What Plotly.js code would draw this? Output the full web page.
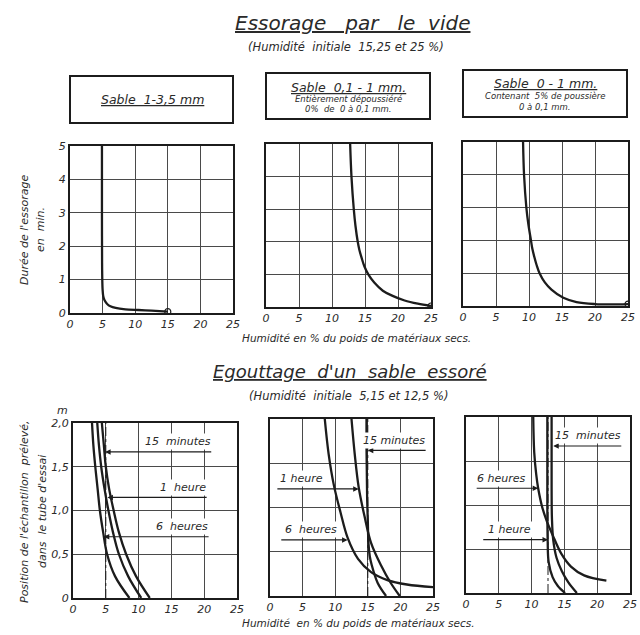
<!DOCTYPE html>
<html><head><meta charset="utf-8">
<script src="https://cdn.plot.ly/plotly-3.0.1.min.js"></script>
<style>body{margin:0;background:#fff}#chart{width:640px;height:635px}</style>
</head><body><div id="chart"></div>
<script>
// ---------- DATA ----------
// Top row: "Essorage par le vide" – duration (min) vs humidity (%)
const s1Hum = [4.9,4.9,4.92,4.95,5.0,5.1,5.3,5.7,6.2,7.0,8.5,10.5,12.5,15.0];
const s1Dur = [5.0,3.0,1.5,1.0,0.7,0.5,0.38,0.27,0.2,0.15,0.11,0.09,0.07,0.04];
const s2Hum = [12.75,12.95,13.3,13.55,13.9,14.15,14.5,14.9,15.5,16.4,17.7,19.1,21.0,23.0,25.0];
const s2Dur = [5.0,4.0,3.0,2.5,2.0,1.75,1.5,1.25,1.0,0.75,0.5,0.35,0.2,0.1,0.03];
const s3Hum = [9.1,9.25,9.6,9.9,10.3,10.5,10.8,11.15,11.6,12.4,13.4,15.2,17.2,20.0,22.5,25.0];
const s3Dur = [5.0,4.0,3.0,2.5,2.0,1.75,1.5,1.25,1.0,0.72,0.5,0.25,0.12,0.06,0.05,0.06];
const endHum = [15.0, 25.0, 25.0];
const endDur = [0.04, 0.03, 0.06];

// Bottom row: "Egouttage d'un sable essoré" – position (m) vs humidity (%)
const initHum = [5.0, 15.0, 12.5];            // initial humidity (dash-dot lines)
const posRange = [0.0, 2.0];
// panel 4 (initial 5 %)
const p4aHum = [4.4,4.7,5.0,5.5,6.2,7.0,8.1,9.6,11.7];   // 15 minutes
const p4aPos = [2.0,1.75,1.5,1.25,1.0,0.75,0.5,0.25,0.0];
const p4bHum = [3.7,3.95,4.3,4.8,5.4,6.1,7.0,8.4,10.4];  // 1 heure
const p4bPos = [2.0,1.75,1.5,1.25,1.0,0.75,0.5,0.25,0.0];
const p4cHum = [2.9,3.1,3.4,3.75,4.1,4.6,5.2,6.4,8.6];   // 6 heures
const p4cPos = [2.0,1.75,1.5,1.25,1.0,0.75,0.5,0.25,0.0];
// panel 5 (initial 15 %)
const p5aHum = [14.8,14.8,14.85,14.9,15.0,15.1,15.3,15.6,16.5,17.8];  // 15 minutes
const p5aPos = [2.0,1.7,1.4,1.1,0.85,0.6,0.45,0.35,0.15,0.0];
const p5bHum = [12.5,13.0,13.6,14.5,15.5,17.0,18.5,19.9];             // 1 heure
const p5bPos = [2.0,1.6,1.23,0.9,0.6,0.35,0.15,0.0];
const p5cHum = [8.4,9.0,9.8,10.8,11.9,13.5,15.5,18.0,21.0,25.0];      // 6 heures
const p5cPos = [2.0,1.6,1.25,0.95,0.66,0.42,0.27,0.18,0.13,0.1];
// panel 6 (initial 12,5 %)
const p6aHum = [13.05,13.05,13.1,13.3,13.8,14.6,15.6,16.9];           // 15 minutes
const p6aPos = [2.0,1.2,0.85,0.6,0.4,0.25,0.12,0.0];
const p6bHum = [12.4,12.4,12.45,12.6,13.2,14.0,15.1];                 // 1 heure
const p6bPos = [2.0,1.0,0.6,0.35,0.18,0.08,0.0];
const p6cHum = [10.25,10.4,10.7,11.0,11.6,12.3,13.2,14.5,16.0,18.0,21.4]; // 6 heures
const p6cPos = [2.0,1.6,1.35,1.19,0.98,0.82,0.66,0.45,0.3,0.2,0.14];

const xTicks = [0,5,10,15,20,25];
const yTopTicks = [0,1,2,3,4,5];
const yBotTicks = [0,0.5,1.0,1.5,2.0];
const yBotText = ['0','0,5','1,0','1,5','2,0'];

// ---------- LAYOUT HELPERS ----------
const W = 640, H = 635;
const px = v => v / W;
const py = v => 1 - v / H;
const INK = '#1c1c1c';
const FONT = 'DejaVu Sans, Liberation Sans, sans-serif';
const ital = (size, color) => ({family: FONT, size: size, color: color || '#2a2a2a', style: 'italic'});

const panels = [
  {x:[70,233],  y:[146,313]},
  {x:[266,431], y:[144,307]},
  {x:[463,628], y:[142,306]},
  {x:[73,237],  y:[423,598]},
  {x:[270,433], y:[419,596]},
  {x:[466,630], y:[417,593]}
];

const layout = {
  width: W, height: H,
  margin: {l:0, r:0, t:0, b:0},
  paper_bgcolor: '#fff', plot_bgcolor: '#fff',
  showlegend: false,
  annotations: [], shapes: []
};

panels.forEach((p, i) => {
  const n = i + 1;
  const xk = n === 1 ? 'xaxis' : 'xaxis' + n;
  const yk = n === 1 ? 'yaxis' : 'yaxis' + n;
  const top = i < 3;
  layout[xk] = {
    domain: [px(p.x[0]), px(p.x[1])], anchor: 'y' + (n === 1 ? '' : n),
    range: [0, 25], tickvals: xTicks, showgrid: true, gridcolor: '#4a4a4a', gridwidth: 1,
    zeroline: false, showline: true, mirror: true, linecolor: INK, linewidth: 2,
    ticks: '', tickfont: ital(11), fixedrange: true
  };
  layout[yk] = {
    domain: [py(p.y[1]), py(p.y[0])], anchor: 'x' + (n === 1 ? '' : n),
    range: top ? [0, 5] : posRange,
    tickvals: top ? yTopTicks : yBotTicks,
    ticktext: top ? yTopTicks.map(String) : yBotText,
    showticklabels: (i === 0 || i === 3),
    showgrid: true, gridcolor: '#4a4a4a', gridwidth: 1,
    zeroline: false, showline: true, mirror: true, linecolor: INK, linewidth: 2,
    ticks: '', tickfont: ital(11), fixedrange: true
  };
});

// ---------- TRACES ----------
const line = (x, y, n, extra) => Object.assign({
  x: x, y: y, xaxis: 'x' + (n === 1 ? '' : n), yaxis: 'y' + (n === 1 ? '' : n),
  type: 'scatter', mode: 'lines', line: {color: INK, width: 2.3, shape: 'spline', smoothing: 1.0},
  hoverinfo: 'skip'
}, extra || {});

const traces = [
  line(s1Hum, s1Dur, 1, {line: {color: INK, width: 2.3, shape: 'spline', smoothing: 0.7}}),
  line(s2Hum, s2Dur, 2),
  line(s3Hum, s3Dur, 3),
  line(p4aHum, p4aPos, 4), line(p4bHum, p4bPos, 4), line(p4cHum, p4cPos, 4),
  line(p5aHum, p5aPos, 5), line(p5bHum, p5bPos, 5), line(p5cHum, p5cPos, 5),
  line(p6aHum, p6aPos, 6), line(p6bHum, p6bPos, 6), line(p6cHum, p6cPos, 6)
];
endHum.forEach((h, i) => {
  traces.push(line([h], [endDur[i]], i + 1, {mode: 'markers',
    marker: {symbol: 'circle-open', size: 6, color: INK, line: {width: 1.2, color: INK}}}));
});
initHum.forEach((h, i) => {
  traces.push(line([h, h], posRange, i + 4, {line: {color: INK, width: 1, dash: 'dashdot'}}));
});

// ---------- TEXT ----------
const A = layout.annotations;
const paperText = (x, y, text, size, extra) => A.push(Object.assign({
  xref: 'paper', yref: 'paper', x: px(x), y: py(y), text: text, showarrow: false,
  xanchor: 'center', yanchor: 'middle', font: ital(size)
}, extra || {}));

paperText(352, 23, '<u>Essorage   par   le  vide</u>', 20);
paperText(346, 47, '(Humidité  initiale  15,25 et 25 %)', 11.5);
paperText(350, 371, '<u>Egouttage  d\'un  sable  essoré</u>', 18);
paperText(348, 396, '(Humidité  initiale  5,15 et 12,5 %)', 11.5);
paperText(356, 338, 'Humidité en % du poids de matériaux secs.', 10.5);
paperText(358, 623, 'Humidité  en % du poids de matériaux secs.', 10.5);
paperText(24, 230, 'Durée de l\'essorage', 11, {textangle: -90});
paperText(40, 230, 'en  min.', 11, {textangle: -90});
paperText(24, 512, 'Position de l\'échantillon  prélevé,', 11, {textangle: -90});
paperText(42, 512, 'dans  le tube d\'essai', 11, {textangle: -90});
paperText(62, 410, 'm', 11);

// boxes at the top
const boxes = [[70,233,76,123],[266,430,73,119],[463,627,70,117]];
boxes.forEach(b => layout.shapes.push({type: 'rect', xref: 'paper', yref: 'paper',
  x0: px(b[0]), x1: px(b[1]), y0: py(b[3]), y1: py(b[2]), line: {color: INK, width: 2}}));
paperText(152, 100, '<u>Sable  1-3,5 mm</u>', 12.5);
paperText(348, 87, '<u>Sable  0,1 - 1 mm.</u>', 12.5);
paperText(348, 99, 'Entièrement dépoussiéré', 8.5);
paperText(348, 109, '0%  de  0 à 0,1 mm.', 8.5);
paperText(545, 83, '<u>Sable  0 - 1 mm.</u>', 12.5);
paperText(545, 96, 'Contenant  5% de poussière', 8.5);
paperText(545, 107, '0 à 0,1 mm.', 8.5);

// curve labels (bottom row)
const labelArrow = (n, text, headX, tailX, yv, textX, anchor) => {
  const xr = 'x' + n, yr = 'y' + n;
  A.push({xref: xr, yref: yr, x: headX, y: yv, axref: xr, ayref: yr, ax: tailX, ay: yv,
    text: '', showarrow: true, arrowhead: 2, arrowsize: 1, arrowwidth: 1.1, arrowcolor: INK, standoff: 0});
  A.push({xref: xr, yref: yr, x: textX, y: yv + 0.02, text: text, showarrow: false,
    xanchor: anchor, yanchor: 'bottom', font: ital(11), bgcolor: '#fff', borderpad: 1});
};
labelArrow(4, '15  minutes', 4.9, 21.3, 1.67, 21.3, 'right');
labelArrow(4, '1  heure', 5.25, 20.6, 1.15, 20.6, 'right');
labelArrow(4, '6  heures', 4.7, 20.9, 0.70, 20.9, 'right');
labelArrow(5, '15 minutes', 15.0, 24.1, 1.645, 24.1, 'right');
labelArrow(5, '1 heure', 13.6, 0.9, 1.21, 1.3, 'left');
labelArrow(5, '6  heures', 11.9, 1.5, 0.634, 2.0, 'left');
labelArrow(6, '15  minutes', 13.3, 23.9, 1.67, 23.9, 'right');
labelArrow(6, '6 heures', 11.0, 1.4, 1.19, 1.4, 'left');
labelArrow(6, '1 heure', 12.5, 2.4, 0.606, 3.0, 'left');

Plotly.newPlot('chart', traces, layout, {staticPlot: true, displayModeBar: false});
</script>
</body></html>
